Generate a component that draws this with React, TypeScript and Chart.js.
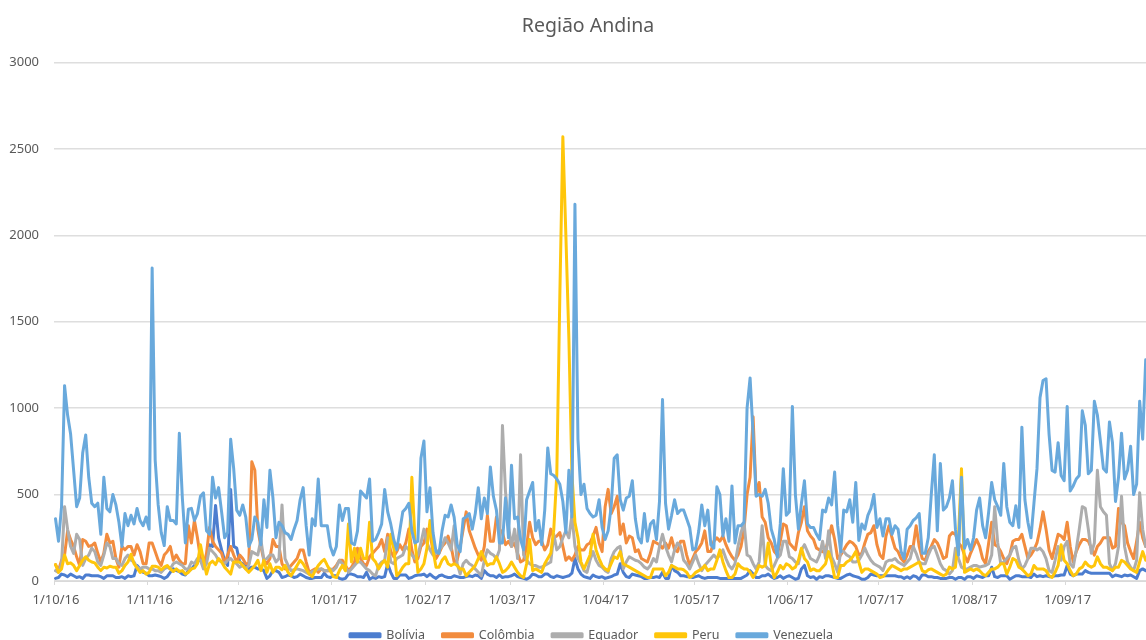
import React, { useEffect, useRef } from "react";
import { Chart, registerables } from "chart.js";

Chart.register(...registerables);

const chartTitle = "Região Andina";
const monthLabels = ["1/10/16","1/11/16","1/12/16","1/01/17","1/02/17","1/03/17","1/04/17","1/05/17","1/06/17","1/07/17","1/08/17","1/09/17"];
const monthStartDays = [0,31,61,92,123,151,182,212,243,273,304,335];

const bolivia = [
15,20,40,35,25,40,30,20,25,15,
35,35,30,30,30,25,15,30,30,30,
20,20,25,15,30,25,30,90,70,50,
45,30,30,35,30,25,15,25,50,70,
60,55,40,35,60,70,90,110,130,90,
120,210,200,437,250,180,120,90,530,200,
190,110,100,90,70,80,80,70,70,60,
15,30,60,60,50,20,25,35,30,20,
25,40,30,20,15,15,20,20,20,45,
25,20,30,30,15,10,15,40,40,35,
25,25,20,50,10,20,15,25,20,25,
100,50,15,15,35,35,35,15,20,30,
35,35,40,25,40,25,15,30,35,25,
20,20,30,25,20,20,25,30,25,35,
30,15,60,40,30,30,20,35,20,25,
25,30,40,25,20,15,10,20,40,35,
25,25,40,40,25,20,30,25,20,25,
30,45,130,70,40,25,20,15,35,25,
20,25,15,20,25,35,40,100,50,25,
20,40,35,30,25,15,15,20,20,25,
20,50,15,15,90,60,50,30,30,25,
25,20,25,30,20,15,20,20,20,20,
15,15,15,15,15,15,15,15,25,35,
60,40,20,20,30,30,40,25,15,20,
30,15,25,30,20,10,15,70,90,30,
20,25,10,25,20,30,30,25,20,15,
15,25,35,40,30,25,20,10,10,20,
40,35,30,30,30,30,30,30,30,25,
25,15,25,15,30,25,10,35,35,25,
25,20,20,15,15,15,20,20,10,20,
20,10,25,25,15,30,25,20,30,30,
80,25,20,30,30,30,10,20,30,30,
25,25,25,20,40,25,30,25,30,25,
25,30,30,35,35,90,40,30,40,40,
40,60,50,45,45,45,45,45,45,45,
25,35,30,25,35,30,35,25,15,60,
70,60];

const colombia = [
95,60,120,150,290,240,200,140,90,240,
230,200,205,220,160,110,160,270,220,230,
130,80,200,180,200,200,150,210,170,100,
100,220,220,170,120,90,150,170,200,120,
150,120,100,100,320,220,350,250,130,90,
160,310,230,200,180,160,100,150,200,150,
110,150,130,100,100,690,640,300,200,120,
100,130,240,200,200,100,70,70,90,110,
130,180,180,110,50,60,70,50,70,60,
60,60,70,90,120,120,90,60,80,110,
190,130,100,90,140,160,180,200,240,170,
270,170,140,170,210,180,220,300,180,110,
130,200,220,300,280,170,130,160,200,220,
260,200,110,120,200,300,400,290,240,190,
150,120,200,380,230,230,370,300,280,210,
230,200,220,160,110,120,200,340,250,210,
230,230,180,210,300,250,260,280,200,120,
140,120,150,200,180,180,210,220,260,310,
220,170,430,530,390,430,490,270,330,220,
260,250,170,180,130,120,110,160,230,220,
210,190,220,190,250,180,170,230,230,150,
90,130,170,190,220,290,170,170,230,250,
230,260,210,170,140,120,150,200,300,500,
600,950,500,570,370,340,250,220,170,150,
230,330,320,220,200,180,280,340,430,290,
260,240,190,180,170,180,240,320,240,130,
150,180,210,230,220,200,150,160,220,270,
280,320,210,150,130,260,320,250,190,170,
130,110,150,200,200,320,200,130,120,170,
200,240,220,180,130,140,260,280,270,220,
200,150,110,160,200,240,200,130,100,220,
340,210,200,170,130,100,150,230,240,240,
270,200,130,150,180,220,300,400,300,180,
130,200,270,260,240,340,200,110,170,210,
240,240,230,190,150,200,220,250,250,250,
190,200,420,340,320,220,170,130,230,340,
250,200];

const equador = [
60,50,100,430,300,200,160,270,240,90,
130,150,190,170,110,90,150,220,200,130,
130,100,90,130,150,120,110,80,70,80,
80,70,70,60,60,50,70,80,70,100,
110,100,90,70,70,110,100,130,120,70,
100,190,170,150,120,110,100,120,130,110,
100,80,90,70,90,170,160,150,240,120,
130,150,150,110,130,440,130,90,60,65,
70,65,60,50,40,55,60,70,70,60,
60,70,60,80,120,100,80,50,70,90,
110,110,90,70,60,40,30,90,110,120,
250,110,100,130,140,150,200,180,150,130,
150,220,300,220,180,150,160,180,200,250,
220,180,320,100,40,100,120,100,90,70,
50,30,120,180,160,150,130,180,900,520,
320,200,300,130,730,150,120,100,90,90,
80,80,90,100,110,270,180,200,250,290,
250,380,200,130,100,60,50,120,170,120,
90,80,60,50,130,170,190,200,70,110,
140,130,120,115,100,80,70,90,130,110,
200,270,200,150,110,180,220,200,120,100,
70,110,150,100,60,90,110,130,150,130,
150,180,130,90,70,100,200,280,340,150,
140,100,70,110,320,90,70,60,90,130,
150,230,230,140,130,110,100,180,210,170,
130,120,110,150,230,130,290,140,100,50,
170,170,150,140,110,110,120,150,190,150,
120,100,90,80,60,110,120,120,130,110,
100,90,110,130,200,160,110,100,100,150,
190,200,150,100,70,60,40,60,190,130,
80,70,70,80,90,90,80,85,90,100,
150,430,220,100,110,130,150,190,200,120,
70,90,130,190,190,180,190,170,130,60,
50,120,200,120,200,230,100,80,180,300,
430,420,300,160,220,640,430,400,380,100,
60,100,200,490,200,110,80,60,120,510,
300,200];

const peru = [
95,50,70,150,100,105,90,60,90,120,
140,120,110,105,80,60,80,75,85,80,
80,45,60,90,110,155,100,75,50,60,
40,50,85,85,80,65,80,90,70,55,
70,55,60,40,50,70,75,100,210,120,
40,100,115,95,130,110,80,60,40,110,
110,110,90,70,50,70,90,120,60,120,
50,100,50,80,80,65,90,50,30,60,
90,120,100,70,40,25,60,90,110,125,
90,60,25,20,60,90,60,330,110,190,
110,190,130,130,340,130,110,70,100,120,
80,270,190,30,50,80,100,100,600,250,
50,70,100,190,350,180,80,80,120,140,
100,90,100,90,70,70,30,50,70,90,
130,170,130,90,100,100,140,100,50,60,
80,110,80,50,30,20,100,240,60,70,
60,50,100,130,160,300,620,1650,2570,2000,
1400,620,340,250,110,70,110,150,270,180,
130,90,70,60,100,140,130,170,100,90,
80,70,60,50,40,30,20,20,70,70,
70,70,30,50,90,80,70,70,65,50,
20,30,50,60,70,90,60,70,70,120,
180,110,60,20,20,40,100,80,70,70,
50,20,50,90,80,90,220,90,20,50,
90,70,100,90,70,80,120,190,130,110,
60,70,60,60,80,100,170,110,20,20,
90,90,110,120,140,170,110,50,70,70,
60,50,40,20,25,45,70,90,80,70,
60,70,70,80,90,100,110,60,50,65,
70,60,50,40,30,40,80,70,80,250,
650,50,60,70,60,70,60,40,30,50,
70,70,80,100,100,40,80,130,120,80,
70,50,30,40,90,70,70,70,60,30,
20,50,90,210,120,100,60,30,40,70,
80,110,90,80,90,140,100,80,80,70,
60,80,80,120,110,90,70,60,50,110,
170,120];

const venezuela = [
360,230,430,1130,960,850,640,430,480,740,
845,600,450,430,450,270,600,420,400,500,
440,340,200,390,320,380,330,420,350,320,
370,300,1810,700,440,280,205,430,350,350,
330,855,480,220,415,420,350,390,490,510,
290,270,600,480,540,400,250,280,820,650,
410,380,440,370,200,240,370,340,210,470,
310,640,480,250,340,320,280,270,240,300,
350,470,540,320,150,360,320,590,320,320,
320,200,150,200,440,350,420,420,220,210,
290,520,500,480,590,230,240,280,330,530,
400,330,240,180,290,400,420,450,290,220,
230,710,810,400,540,280,170,160,290,380,
370,440,370,210,170,360,370,390,300,390,
540,360,480,390,660,490,410,220,220,480,
250,670,360,370,240,180,470,520,570,290,
350,210,410,770,620,610,590,560,460,280,
640,370,2180,820,500,560,420,390,370,380,
470,310,240,290,430,710,730,470,410,480,
490,580,360,250,220,390,230,330,350,240,
460,1050,450,300,380,470,390,410,410,360,
310,180,190,290,440,320,410,210,190,545,
500,260,360,230,550,220,320,320,340,1000,
1175,850,490,500,490,530,450,300,240,140,
330,650,380,400,1010,500,300,450,580,330,
310,310,270,240,410,400,480,440,630,320,
170,410,400,470,340,570,235,330,300,380,
420,500,310,360,260,360,360,270,320,300,
170,130,300,320,350,365,390,160,160,250,
500,730,290,680,410,430,480,580,300,150,
600,190,240,180,250,410,480,320,250,400,
570,470,430,380,680,430,340,320,435,310,
890,470,340,250,450,650,1060,1160,1170,850,
640,630,800,610,580,1010,520,550,590,610,
985,900,620,640,1040,960,810,650,630,920,
800,460,600,855,590,640,780,500,560,1040,
820,1280];

const seriesNames = ["Bolívia","Colômbia","Equador","Peru","Venezuela"];
const seriesColors = ["#4C7DCF","#F28C3E","#ADADAD","#FFC60A","#69A9DC"];
const seriesValues = [bolivia, colombia, equador, peru, venezuela];

const FONT = '"Noto Sans", sans-serif';

const placeBlocks = {
  id: "placeBlocks",
  afterLayout(chart: any) {
    if (chart.titleBlock) {
      chart.titleBlock.left = 30;
    }
    if (chart.scales.x) {
      chart.scales.x.bottom = 625;
    }
    if (chart.legend) {
      chart.legend.left = 37;
      chart.legend.top = 611.5;
      chart.legend.bottom = 640;
    }
  },
};

export default function App() {
  const ref = useRef<HTMLCanvasElement | null>(null);
  useEffect(() => {
    if (!ref.current) return;
    const chart = new Chart(ref.current, {
      type: "line",
      data: {
        datasets: seriesNames.map((name, i) => ({
          label: name,
          data: seriesValues[i].map((y, x) => ({ x, y })),
          borderColor: seriesColors[i],
          backgroundColor: seriesColors[i],
          borderWidth: 3,
          pointRadius: 0,
          tension: 0,
          order: seriesNames.length - i,
          borderJoinStyle: "round" as const,
          borderCapStyle: "round" as const,
          fill: false,
        })),
      },
      plugins: [placeBlocks],
      options: {
        responsive: false,
        animation: false,
        events: [],
        layout: { padding: 0 },
        plugins: {
          tooltip: { enabled: false },
          title: {
            display: true,
            text: chartTitle,
            color: "#595959",
            font: { family: FONT, size: 19.5, weight: "normal" },
            padding: { top: 15, bottom: 24 },
          },
          legend: {
            display: true,
            position: "bottom",
            labels: {
              boxWidth: 30,
              boxHeight: 3,
              padding: 17.5,
              color: "#595959",
              font: { family: FONT, size: 12.5 },
              sort: (a: any, b: any) => a.datasetIndex - b.datasetIndex,
            },
          },
        },
        scales: {
          x: {
            type: "linear",
            min: -0.5,
            max: 361.1,
            afterBuildTicks: (scale: any) => {
              scale.ticks = monthStartDays.map((d) => ({ value: d - 0.5 }));
            },
            afterFit: (scale: any) => {
              scale.height = 19;
            },
            ticks: {
              autoSkip: false,
              maxRotation: 0,
              minRotation: 0,
              labelOffset: 2,
              padding: 7,
              color: "#595959",
              font: { family: FONT, size: 13 },
              callback: (v: any) => {
                const idx = monthStartDays.indexOf(Number(v) + 0.5);
                return idx >= 0 ? monthLabels[idx] : "";
              },
            },
            grid: { drawOnChartArea: false, drawTicks: true, tickLength: 4, color: "#D9D9D9" },
            border: { display: true, color: "#D9D9D9", width: 1 },
          },
          y: {
            min: 0,
            max: 3000,
            afterFit: (scale: any) => {
              scale.width = 54;
            },
            ticks: {
              stepSize: 500,
              padding: 15,
              color: "#595959",
              font: { family: FONT, size: 13 },
              callback: (v: any) => String(v),
            },
            grid: { color: "#DEDEDE", lineWidth: 1.5, drawTicks: false },
            border: { display: false },
          },
        },
      } as any,
    });
    return () => chart.destroy();
  }, []);
  return (
    <div style={{ position: "fixed", left: 0, top: 0, width: 1146, height: 640, overflow: "hidden", background: "#fff" }}>
      <canvas ref={ref} width={1146} height={640} style={{ display: "block", width: 1146, height: 640 }} />
    </div>
  );
}
